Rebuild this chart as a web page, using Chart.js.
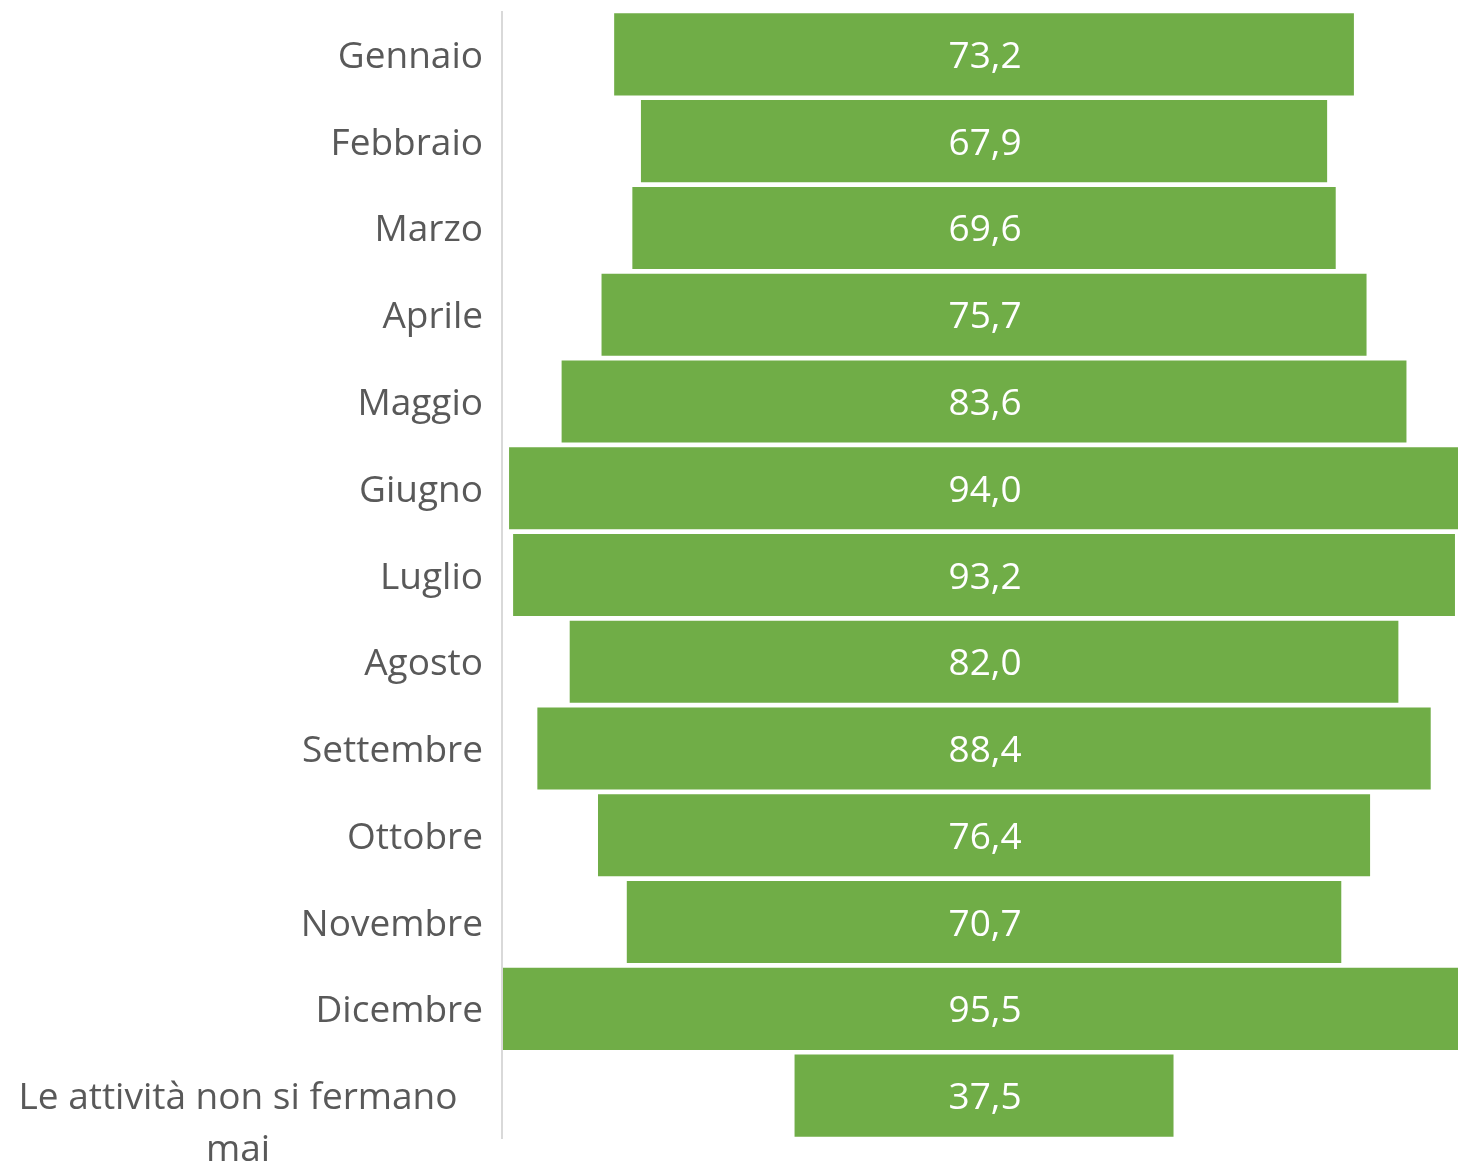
<!DOCTYPE html>
<html>
<head>
<meta charset="utf-8">
<script src="https://cdn.jsdelivr.net/npm/chart.js@4"></script>
<style>
  html, body { margin: 0; padding: 0; background: #fff; }
  #wrap { width: 1458px; height: 1162px; position: relative; }
</style>
</head>
<body>
<div id="wrap"><canvas id="chart"></canvas></div>
<script>
const categories = ["Gennaio", "Febbraio", "Marzo", "Aprile", "Maggio", "Giugno", "Luglio",
    "Agosto", "Settembre", "Ottobre", "Novembre", "Dicembre", ["Le attività non si fermano", "mai"]];
const values = [73.2, 67.9, 69.6, 75.7, 83.6, 94.0, 93.2, 82.0, 88.4, 76.4, 70.7, 95.5, 37.5];

const FONT = "'Open Sans', 'Noto Sans', sans-serif";

// bars centred on zero: each one runs from -v/2 to +v/2
const spans = values.map(v => [-v / 2, v / 2]);

const labelsPlugin = {
    id: "labels",
    afterDatasetsDraw(c) {
        const ctx = c.ctx;
        const y = c.scales.y;
        const x = c.scales.x;
        ctx.save();
        // value labels
        ctx.fillStyle = "#ffffff";
        ctx.font = "37px " + FONT;
        ctx.textAlign = "center";
        ctx.textBaseline = "middle";
        values.forEach((v, i) => {
            ctx.fillText(v.toFixed(1).replace(".", ","), x.getPixelForValue(0) + 1, y.getPixelForValue(i) + 3);
        });
        // category labels
        ctx.fillStyle = "#595959";
        categories.forEach((lab, i) => {
            const py = y.getPixelForValue(i);
            if (Array.isArray(lab)) {
                ctx.textAlign = "center";
                lab.forEach((line, k) => {
                    ctx.fillText(line, 238, py + 3 + k * 52);
                });
            } else {
                ctx.textAlign = "right";
                ctx.fillText(lab, 483, py + 3);
            }
        });
        ctx.restore();
    }
};

const axisLinePlugin = {
    id: "axisLine",
    beforeDatasetsDraw(c) {
        const ctx = c.ctx;
        const a = c.chartArea;
        ctx.save();
        ctx.strokeStyle = "#d9d9d9";
        ctx.lineWidth = 2;
        ctx.beginPath();
        ctx.moveTo(a.left - 1, a.top);
        ctx.lineTo(a.left - 1, a.bottom);
        ctx.stroke();
        ctx.restore();
    }
};

new Chart(document.getElementById("chart"), {
    type: "bar",
    data: {
        labels: categories,
        datasets: [{
            data: spans,
            backgroundColor: "#70ad47",
            borderWidth: 0,
            categoryPercentage: 1.0,
            barPercentage: 0.946
        }]
    },
    options: {
        indexAxis: "y",
        responsive: true,
        maintainAspectRatio: false,
        animation: false,
        layout: { padding: { top: 11, bottom: 23, right: 0, left: 0 } },
        plugins: {
            legend: { display: false },
            tooltip: { enabled: false }
        },
        scales: {
            x: {
                min: -47.6,
                max: 46.9,
                display: false
            },
            y: {
                grid: { display: false },
                border: { display: false },
                ticks: { display: false },
                afterFit(scale) { scale.width = 503; }
            }
        }
    },
    plugins: [axisLinePlugin, labelsPlugin]
});
</script>
</body>
</html>
